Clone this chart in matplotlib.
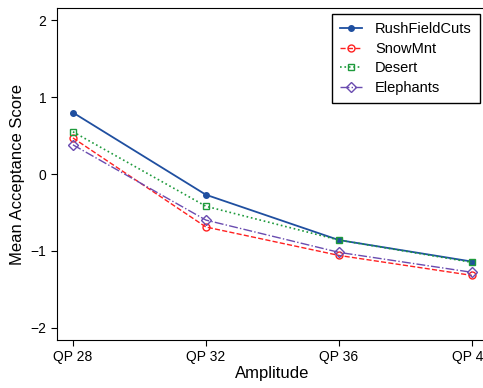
import matplotlib
matplotlib.use("Agg")
import matplotlib.pyplot as plt

plt.rcParams['font.family'] = ['Liberation Sans', 'DejaVu Sans']

categories = ["QP 28", "QP 32", "QP 36", "QP 40"]
rush = [0.80, -0.27, -0.86, -1.14]
snow = [0.47, -0.69, -1.06, -1.32]
desert = [0.55, -0.42, -0.86, -1.15]
eleph = [0.38, -0.60, -1.02, -1.28]

fig = plt.figure(figsize=(4.83, 3.88), dpi=100)
ax = fig.add_axes([0.118, 0.124, 0.892, 0.855])
x = [1, 2, 3, 4]
ax.plot(x, rush, '-', color='#1f4fa0', marker='o', ms=4, lw=1.3, label='RushFieldCuts')
ax.plot(x, snow, '--', color='#ff2020', marker='o', ms=5, mfc='none', lw=1.0, label='SnowMnt')
ax.plot(x, desert, ':', color='#1e9a3c', marker='s', ms=5, mfc='none', lw=1.2, label='Desert')
ax.plot(x, eleph, '-.', color='#6a4cb0', marker='D', ms=5, mfc='none', lw=1.0, label='Elephants')

ax.set_xlim(0.88, 4.12)
ax.set_ylim(-2.16, 2.16)
ax.set_xticks(x)
ax.set_xticklabels(categories)
ax.set_yticks([-2, -1, 0, 1, 2])
ax.set_yticklabels(['\u22122', '\u22121', '0', '1', '2'])
ax.tick_params(labelsize=10, direction='out', length=4)
ax.set_xlabel('Amplitude', fontsize=12, labelpad=1)
ax.set_ylabel('Mean Acceptance Score', fontsize=12)
leg = ax.legend(loc='upper right', bbox_to_anchor=(0.981, 0.982), borderaxespad=0,
                fontsize=10.5, frameon=True, fancybox=False, edgecolor='black', framealpha=1,
                borderpad=0.55, handlelength=1.5, labelspacing=0.38, handletextpad=0.9)
leg.get_frame().set_linewidth(1.0)

fig.savefig('out.png', dpi=100)
